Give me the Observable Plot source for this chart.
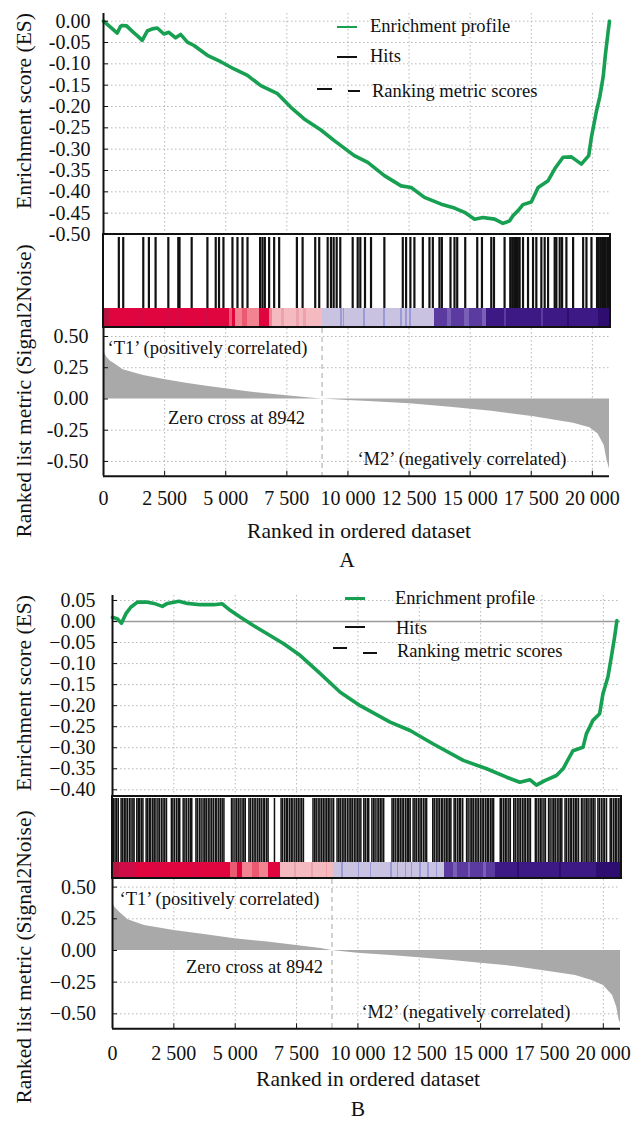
<!DOCTYPE html>
<html><head><meta charset="utf-8">
<script src="https://cdn.jsdelivr.net/npm/d3@7"></script>
<script src="https://cdn.jsdelivr.net/npm/@observablehq/plot@0.6"></script>
<style>
html,body{margin:0;padding:0;background:#fff;}
#root{position:relative;width:642px;height:1122px;overflow:hidden;font-family:"Liberation Serif","Times New Roman",serif;color:#111;background:#fff;}
.lbl{position:absolute;white-space:nowrap;line-height:1;}
.rot{position:absolute;white-space:nowrap;line-height:1;transform:translate(-50%,-50%) rotate(-90deg);}
.box{position:absolute;border:2px solid #111;box-sizing:border-box;pointer-events:none;}
</style></head><body><div id="root"></div>
<script>
// ---------------- data ----------------
const rankMax = 20700;
const zeroCross = 8942;
const xTicks = [0, 2500, 5000, 7500, 10000, 12500, 15000, 17500, 20000];
const esTicksA = [0, -0.05, -0.1, -0.15, -0.2, -0.25, -0.3, -0.35, -0.4, -0.45, -0.5];
const esTicksB = [0.05, 0, -0.05, -0.1, -0.15, -0.2, -0.25, -0.3, -0.35, -0.4];
const metricTicks = [0.5, 0.25, 0, -0.25, -0.5];
const legendLabels = ["Enrichment profile", "Hits", "Ranking metric scores"];
const posLabel = "‘T1’ (positively correlated)";
const negLabel = "‘M2’ (negatively correlated)";
const esTitle = "Enrichment score (ES)";
const metricTitle = "Ranked list metric (Signal2Noise)";
const xTitle = "Ranked in ordered dataset";
const panelNames = ["A", "B"];
const toneNames = ["darkred","red","red2","lightred","salmon","pink","pink2","lavender","blue","purple","purple2","deeppurple","darkpurple"];

// Panel A
const esRankA = [0,200,400,560,700,765,943,1200,1400,1585,1790,1995,2200,2470,2675,2950,3155,3430,3700,4250,4795,5340,5890,6435,7120,7665,8210,8895,9440,10260,10810,11490,12175,12585,13130,13815,14360,14770,15180,15520,16000,16340,16615,16750,16960,17160,17500,17780,18190,18460,18800,19140,19550,19850,19960,20170,20300,20440,20535,20650,20700];
const esValueA = [0,-0.010,-0.020,-0.028,-0.012,-0.010,-0.011,-0.025,-0.035,-0.045,-0.023,-0.018,-0.016,-0.030,-0.026,-0.039,-0.031,-0.049,-0.057,-0.080,-0.095,-0.112,-0.127,-0.151,-0.170,-0.202,-0.229,-0.255,-0.280,-0.315,-0.331,-0.362,-0.386,-0.390,-0.413,-0.429,-0.438,-0.448,-0.464,-0.460,-0.464,-0.474,-0.468,-0.456,-0.444,-0.430,-0.424,-0.390,-0.374,-0.346,-0.319,-0.318,-0.335,-0.315,-0.272,-0.210,-0.178,-0.131,-0.077,-0.022,0];
const hitsA = [627,807,1627,1857,2131,2652,3060,3110,3607,4251,4591,4726,4907,5275,5481,5686,5891,6407,6505,6600,6776,6981,7186,7911,8145,8661,8825,9170,9305,9416,9539,9686,10194,10399,10506,10698,10944,11490,12244,12379,12555,12719,13064,13334,13473,13744,13842,14195,14359,14470,14798,15289,15482,15863,15974,16408,16640,16720,16800,16880,16950,17023,17162,17367,17572,17707,17912,18048,18187,18458,18527,18663,18761,18937,19212,19622,19757,19962,20190,20260,20330,20400,20470,20540,20610,20680];
const metricRankA = [0,60,150,300,470,800,1640,2480,3320,4150,5000,5830,6670,7500,8340,8942,10000,10860,12530,14200,15880,17550,19230,19900,20235,20485,20600,20700];
const metricValueA = [0.40,0.36,0.33,0.30,0.28,0.233,0.188,0.156,0.127,0.103,0.081,0.060,0.041,0.025,0.010,0,-0.012,-0.020,-0.039,-0.066,-0.098,-0.14,-0.194,-0.23,-0.28,-0.372,-0.49,-0.56];
const bandsA = [[0,250,"darkred"],[250,5137,"red"],[5137,5274,"lightred"],[5274,5411,"red"],[5411,5684,"salmon"],[5684,5889,"lightred"],[5889,6367,"salmon"],[6367,6777,"red"],[6777,6913,"salmon"],[6913,8965,"pink"],[8965,13540,"lavender"],[13540,14088,"purple"],[14088,14224,"purple2"],[14224,14769,"purple"],[14769,14974,"purple2"],[14974,15522,"purple"],[15522,15658,"purple2"],[15658,20236,"deeppurple"],[20236,20700,"darkpurple"]];
const stripesA = [[1500,1600,"red2"],[2600,2700,"red2"],[3050,3150,"red2"],[4200,4300,"red2"],[7300,7400,"pink2"],[7900,8000,"pink2"],[8200,8300,"pink2"],[9700,9780,"blue"],[9800,9870,"blue"],[10650,10730,"blue"],[11470,11550,"blue"],[12170,12240,"blue"],[12370,12440,"blue"],[12520,12580,"blue"],[16400,16480,"purple"],[17900,17980,"purple"],[19000,19080,"darkpurple"]];

// Panel B
const esRankB = [0,203,366,541,744,1016,1423,1691,2033,2236,2707,3049,3589,4130,4472,4809,5216,5756,6301,6976,7654,8467,9280,10093,11313,12126,13073,14293,15244,16057,16598,17005,17276,17614,18090,18358,18765,19171,19309,19577,19850,19984,20187,20325,20459,20553];
const esValueB = [0.010,0.006,-0.004,0.018,0.034,0.046,0.046,0.043,0.036,0.043,0.048,0.043,0.040,0.040,0.042,0.026,0.010,-0.010,-0.029,-0.053,-0.081,-0.124,-0.168,-0.200,-0.239,-0.259,-0.291,-0.330,-0.350,-0.370,-0.382,-0.376,-0.389,-0.378,-0.366,-0.350,-0.307,-0.299,-0.267,-0.235,-0.219,-0.172,-0.132,-0.085,-0.037,0.002];
const hitsB = [40,105,170,235,350,410,480,545,610,690,755,830,880,990,1050,1110,1180,1240,1370,1430,1500,1560,1640,1700,1770,1850,1910,1990,2060,2130,2200,2400,2460,2530,2610,2680,2740,2880,2950,3020,3100,3170,3230,3400,3460,3540,3610,3690,3760,3820,3900,3970,4040,4110,4190,4250,4330,4400,4470,4540,4850,4910,4990,5060,5130,5200,5280,5350,5410,5560,5620,5700,5770,5840,5920,5990,6060,6140,6200,6280,6340,6600,6870,6930,7010,7080,7140,7220,7290,7350,7430,7500,7570,7640,7710,7780,8170,8240,8300,8380,8450,8520,8590,8660,8730,8800,8860,8940,9010,9150,9220,9280,9360,9430,9490,9570,9640,9710,9770,9850,9920,9990,10050,10120,10240,10300,10380,10440,10570,10640,10700,10780,10850,10920,10980,11050,11390,11450,11520,11600,11660,11730,11800,11860,11940,12010,12070,12130,12250,12320,12380,12460,12530,12590,12670,12740,12800,13050,13110,13190,13260,13320,13400,13460,13540,13610,13670,13740,13790,13920,13980,14060,14130,14190,14270,14430,14490,14570,14640,14700,14780,14850,14910,14990,15060,15120,15200,15270,15330,15410,15470,15530,15800,15860,15940,16010,16070,16150,16210,16350,16410,16490,16560,16620,16700,16770,16830,16910,16970,17030,17230,17290,17370,17440,17500,17580,17640,17770,17830,17910,17980,18040,18120,18190,18250,18310,18440,18500,18580,18650,18710,18790,18860,18920,18990,19110,19170,19250,19320,19380,19460,19530,19590,19660,19780,19840,19920,19990,20050,20130,20280,20340,20420,20490,20550,20630,20690];
const metricRankB = [0,100,301,636,1305,2510,3814,4985,6324,7495,8500,8942,10000,11343,12480,13852,15000,16360,17500,18870,19540,20010,20377,20545,20645,20700];
const metricValueB = [0.38,0.34,0.30,0.242,0.197,0.158,0.124,0.092,0.066,0.039,0.016,0,-0.021,-0.039,-0.058,-0.079,-0.10,-0.126,-0.158,-0.197,-0.237,-0.276,-0.355,-0.447,-0.55,-0.57];
const bandsB = [[0,300,"darkred"],[300,950,"red2"],[950,4818,"red"],[4818,5100,"lightred"],[5100,5300,"red"],[5300,5700,"salmon"],[5700,6000,"lightred"],[6000,6350,"salmon"],[6350,6826,"red"],[6826,9001,"pink"],[9001,13518,"lavender"],[13518,15609,"purple"],[15609,19708,"deeppurple"],[19708,20700,"darkpurple"]];
const stripesB = [[1800,1880,"red2"],[3300,3380,"red2"],[7400,7480,"pink2"],[8100,8180,"pink2"],[8700,8780,"pink2"],[9335,9400,"blue"],[10004,10070,"blue"],[10506,10570,"blue"],[11343,11420,"blue"],[11594,11660,"blue"],[11929,11990,"blue"],[12179,12240,"blue"],[12514,12580,"blue"],[12849,12910,"blue"],[13183,13250,"blue"],[13900,14050,"purple2"],[14500,14600,"purple2"],[15100,15250,"purple2"],[16500,16580,"darkpurple"],[18200,18280,"darkpurple"]];

// ---------------- drawing ----------------
const root = document.getElementById("root");
const FONT = '"Liberation Serif","Times New Roman",serif';
const GREEN = "#17a052";
const INK = "#111";
const GRID = {stroke: "#b8b8b8", strokeOpacity: 1, strokeWidth: 1, strokeDasharray: "1.5,2.5"};
const toneColors = ["#b8123e","#e1053f","#cf0c47","#ec5a72","#f28390","#f5b9c0","#eea2b0","#c9c2e1","#9a9ad8","#5b3b9f","#7a5fb6","#3d1986","#2d0e70"];
const hyphenFmt = d => d.toFixed(2);
const minusFmt = d3.format(".2f");
const xFmt = d => d3.format(",")(d).replace(/,/g, " ");
const baseStyle = {fontFamily: FONT, fontSize: "20px", color: INK, background: "transparent"};
const openStyle = {...baseStyle, overflow: "visible"};

function put(node, left, top) {
  node.style.position = "absolute";
  node.style.left = left + "px";
  node.style.top = top + "px";
  root.appendChild(node);
}
function label(text, x, y, size, mode) {
  const d = document.createElement("div");
  d.textContent = text;
  d.className = mode === "rot" ? "rot" : "lbl";
  d.style.fontSize = size + "px";
  d.style.left = x + "px";
  d.style.top = y + "px";
  if (mode !== "rot") d.style.transform = mode === "start" ? "translate(0,-50%)" : "translate(-50%,-50%)";
  root.appendChild(d);
}
function swatch(x, y, w, h, color) {
  const d = document.createElement("div");
  d.style.cssText = `position:absolute;left:${x}px;top:${y - h / 2}px;width:${w}px;height:${h}px;background:${color}`;
  root.appendChild(d);
}
function box(l, t, w, h) {
  const d = document.createElement("div");
  d.className = "box";
  d.style.cssText += `left:${l}px;top:${t}px;width:${w}px;height:${h}px;`;
  root.appendChild(d);
}

function drawPanel(p) {
  const esData = p.esRank.map((r, i) => ({rank: r, es: p.esValue[i]}));
  const mData = p.mRank.map((r, i) => ({rank: r, v: p.mValue[i]}));
  const mr = 642 - p.right;

  const es = Plot.plot({
    width: 642, height: p.es.height, marginLeft: p.left, marginRight: mr, marginTop: p.es.marginTop, marginBottom: 0,
    style: openStyle,
    x: {domain: [0, rankMax], axis: null, label: null},
    y: {domain: p.es.yDomain, label: null},
    marks: [
      Plot.gridX(xTicks.slice(1), GRID),
      Plot.gridY(p.es.ticks, GRID),
      p.es.zeroLine ? Plot.ruleY([0], {stroke: "#9a9a9a", strokeWidth: 1.5}) : null,
      Plot.line(esData, {x: "rank", y: "es", stroke: GREEN, strokeWidth: 3.6}),
      Plot.ruleX([0], {stroke: "#111", strokeWidth: 2}),
      Plot.axisY(p.es.ticks, {label: null, tickSize: -5, tickPadding: p.es.pad, tickFormat: p.fmt, fontSize: 20, stroke: "#111"})
    ]
  });
  put(es, 0, p.es.top);

  const hits = Plot.plot({
    width: 642, height: p.hits.height, marginLeft: p.left, marginRight: mr, marginTop: 0, marginBottom: 0,
    style: baseStyle,
    x: {domain: [0, rankMax], axis: null, label: null},
    marks: [Plot.tickX(p.hitsList, {x: d => d, stroke: "#111", strokeWidth: p.hits.strokeWidth})]
  });
  put(hits, 0, p.hits.top);

  const bar = Plot.plot({
    width: 642, height: p.bar.height, marginLeft: p.left, marginRight: mr, marginTop: 0, marginBottom: 0,
    style: baseStyle,
    x: {domain: [0, rankMax], axis: null, label: null},
    color: {domain: toneNames, range: toneColors},
    marks: [
      Plot.rect(p.bands, {x1: d => d[0], x2: d => d[1], fill: d => d[2], shapeRendering: "crispEdges"}),
      Plot.rect(p.stripes, {x1: d => d[0], x2: d => d[1], fill: d => d[2], shapeRendering: "crispEdges"})
    ]
  });
  put(bar, 0, p.bar.top);

  const metric = Plot.plot({
    width: 642, height: p.m.plotHeight + p.m.marginBottom, marginLeft: p.left, marginRight: mr, marginTop: 0, marginBottom: p.m.marginBottom,
    style: openStyle,
    x: {domain: [0, rankMax], label: null},
    y: {domain: p.m.yDomain, label: null},
    marks: [
      Plot.gridX(xTicks.slice(1), GRID),
      Plot.gridY(metricTicks.filter(d => d !== 0), GRID),
      Plot.areaY(mData, {x: "rank", y: "v", fill: "#a9a9a9"}),
      Plot.ruleX([zeroCross], {stroke: "#b5b5b5", strokeWidth: 1.2, strokeDasharray: "5,4"}),
      Plot.ruleX([0], {stroke: "#111", strokeWidth: 2}),
      Plot.ruleY([p.m.yDomain[0]], {stroke: "#111", strokeWidth: 2}),
      Plot.axisY(metricTicks, {label: null, tickSize: -5, tickPadding: p.m.ypad, tickFormat: p.fmt, fontSize: 20, stroke: "#111"}),
      Plot.axisX(xTicks, {label: null, tickSize: -5, tickPadding: p.m.xpad, tickFormat: xFmt, lineAnchor: "middle", fontSize: 20, stroke: "#111"}),
      Plot.text([posLabel], {text: d => d, frameAnchor: "top-left", textAnchor: "start", lineAnchor: "middle", dx: p.ann.t1[0], dy: p.ann.t1[1], fontSize: 18.5, fill: INK}),
      Plot.text([zeroCross], {x: d => d, y: () => 0, text: d => `Zero cross at ${d}`, textAnchor: "end", lineAnchor: "middle", dx: p.ann.zc[0], dy: p.ann.zc[1], fontSize: 18.5, fill: INK}),
      Plot.text([negLabel], {text: d => d, frameAnchor: "bottom-right", textAnchor: "end", lineAnchor: "middle", dx: p.ann.m2[0], dy: p.ann.m2[1], fontSize: 18.5, fill: INK})
    ]
  });
  put(metric, 0, p.m.top);

  box(p.box[0], p.box[1], p.box[2], p.box[3]);

  // titles
  label(esTitle, p.titles.es[0], p.titles.es[1], 21.5, "rot");
  label(metricTitle, p.titles.metric[0], p.titles.metric[1], 21.5, "rot");
  label(xTitle, p.titles.x[0], p.titles.x[1], 21.5, "mid");
  label(p.name, p.titles.name[0], p.titles.name[1], 21.5, "mid");

  // legend
  const L = p.legend;
  swatch(L.green[0], L.green[1], 20, 2.5, GREEN);
  label(legendLabels[0], L.t[0][0], L.t[0][1], 18.5, "start");
  swatch(L.black[0], L.black[1], 20, 2, "#111");
  label(legendLabels[1], L.t[1][0], L.t[1][1], 18.5, "start");
  swatch(L.d1[0], L.d1[1], L.d1[2], 2, "#111");
  swatch(L.d2[0], L.d2[1], L.d2[2], 2, "#111");
  label(legendLabels[2], L.t[2][0], L.t[2][1], 18.5, "start");
}

drawPanel({
  name: panelNames[0], left: 103, right: 609, fmt: hyphenFmt,
  esRank: esRankA, esValue: esValueA, hitsList: hitsA, mRank: metricRankA, mValue: metricValueA, bands: bandsA, stripes: stripesA,
  es: {top: 0, height: 234, marginTop: 13, yDomain: [-0.5, 0.018], ticks: esTicksA, pad: 18, zeroLine: false},
  hits: {top: 237, height: 71, strokeWidth: 2.2},
  bar: {top: 308, height: 18},
  box: [102, 233, 509, 95],
  m: {top: 328, plotHeight: 147.7, marginBottom: 46, yDomain: [-0.618, 0.564], ypad: 20, xpad: 27.3},
  ann: {t1: [4, 19.7], zc: [-17, 19], m2: [-43, -17.4]},
  titles: {es: [25, 111], metric: [25, 390.5], x: [359, 531.5], name: [347, 561]},
  legend: {green: [337, 27], black: [337, 57], d1: [317, 89, 15], d2: [348, 91, 12], t: [[370, 26], [370, 56], [372, 91]]}
});

drawPanel({
  name: panelNames[1], left: 112, right: 620, fmt: minusFmt,
  esRank: esRankB, esValue: esValueB, hitsList: hitsB, mRank: metricRankB, mValue: metricValueB, bands: bandsB, stripes: stripesB,
  es: {top: 585, height: 210, marginTop: 10, yDomain: [-0.4135, 0.0618], ticks: esTicksB, pad: 22, zeroLine: true},
  hits: {top: 798, height: 64, strokeWidth: 1.5},
  bar: {top: 862, height: 16},
  box: [111, 795, 511, 84],
  m: {top: 879, plotHeight: 149.3, marginBottom: 42, yDomain: [-0.618, 0.560], ypad: 21.5, xpad: 30},
  ann: {t1: [7, 19.3], zc: [-9, 16.7], m2: [-50, -16.6]},
  titles: {es: [25, 693], metric: [25, 957], x: [368, 1080], name: [358, 1110]},
  legend: {green: [345, 598.3], black: [345, 626.7], d1: [333, 648.3, 14], d2: [363, 653.3, 14], t: [[395, 597.7], [396, 627.7], [397, 651]]}
});
</script></body></html>
